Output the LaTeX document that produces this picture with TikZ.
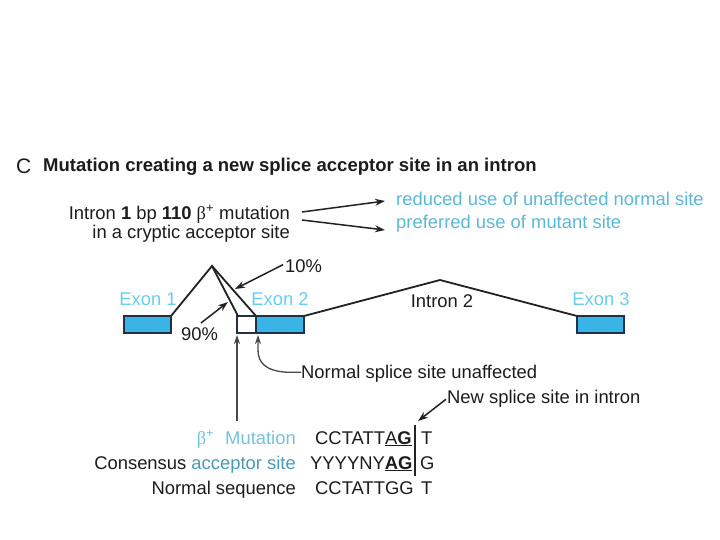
\documentclass[tikz,border=0pt]{standalone}
\usepackage{fontspec}
\setmainfont{Liberation Sans}
\newfontfamily\grkserif{Liberation Serif}
\usetikzlibrary{arrows.meta}
\definecolor{exfill}{HTML}{3AB4E6}
\definecolor{exdraw}{HTML}{1E3148}
\definecolor{exlab}{HTML}{6ACDEB}
\definecolor{cyantxt}{HTML}{5CB9D6}
\definecolor{mutc}{HTML}{72C3DE}
\definecolor{accc}{HTML}{4A9BB4}
\definecolor{ink}{HTML}{1C1C1C}
\definecolor{lin}{HTML}{222222}
\definecolor{glin}{HTML}{484848}
\newcommand{\bplus}{{\grkserif β}\textsuperscript{+}}
\tikzset{
  txt/.style={inner sep=0pt, text=ink, font=\fontsize{18.4}{20}\selectfont},
  exonbox/.style={draw=exdraw, fill=exfill, line width=1.5pt},
  exlabel/.style={txt, text=exlab, anchor=base},
  splice/.style={draw=lin, line width=1.8pt, line join=miter},
  arr/.style={draw=lin, line width=1.5pt, -{Stealth[length=10pt,width=7pt]}},
  garr/.style={draw=glin, line width=1.3pt, -{Stealth[length=9pt,width=6pt]}},
}
\begin{document}
\begin{tikzpicture}[x=1pt,y=-1pt]
\useasboundingbox (0,0) rectangle (720,540);
\fill[white] (0,0) rectangle (720,540);

% title
\node[txt, anchor=base west, font=\fontsize{21}{22}\selectfont] (lblC) at (16,174) {C};
\node[txt, anchor=base west, font=\bfseries\fontsize{18.5}{20}\selectfont] (title) at (43,172) {Mutation creating a new splice acceptor site in an intron};

% top description
\node[txt, anchor=base east] (d1) at (290,219) {Intron \textbf{1} bp \textbf{110} \bplus\ mutation};
\node[txt, anchor=base east] (d2) at (290,239) {in a cryptic acceptor site};
\node[txt, anchor=base west, text=cyantxt] (r1) at (396,206) {reduced use of unaffected normal site};
\node[txt, anchor=base west, text=cyantxt] (r2) at (396,229) {preferred use of mutant site};
\coordinate (a1s) at (302,212);
\coordinate (a2s) at (302,220);
\coordinate (a1e) at (385,201);
\coordinate (a2e) at (385,230);
\draw[arr] (a1s) -- (a1e);
\draw[arr] (a2s) -- (a2e);

% exons
\draw[exonbox] (124,316) rectangle (171,333) node[midway] (ex1) {};
\draw[draw=exdraw, fill=white, line width=1.3pt] (237,316) rectangle (256,333) node[midway] (cry) {};
\draw[exonbox] (256,316) rectangle (304,333) node[midway] (ex2) {};
\draw[exonbox] (577,316) rectangle (624,333) node[midway] (ex3) {};

\node[exlabel] (e1l) at (148,305) {Exon 1};
\node[exlabel] (e2l) at (280,305) {Exon 2};
\node[exlabel] (e3l) at (601,305) {Exon 3};
\node[txt, anchor=base] (i2l) at (442,307) {Intron 2};

% splicing lines
\coordinate (pk1) at (212,266);
\coordinate (pk2) at (440,280);
\draw[splice] (171,316) -- (pk1) -- (238,316);
\draw[splice] (pk1) -- (256,316);
\draw[splice] (304,316) -- (pk2) -- (577,316);

% percentages
\node[txt, anchor=base west] (p10) at (285,272) {10\%};
\node[txt, anchor=base west] (p90) at (181,340) {90\%};
\coordinate (t10) at (235,289);
\coordinate (t90) at (228,302);
\draw[arr] (p10.west) ++(-2,-1) -- (t10);
\draw[arr] (201,323) -- (t90);

% lower arrows
\node[txt, anchor=base west] (nss) at (301,378) {Normal splice site unaffected};
\node[txt, anchor=base west] (new) at (447,403) {New splice site in intron};
\coordinate (mutbot) at (237,421);
\coordinate (mutt) at (237,335);
\coordinate (nst) at (258,335);
\draw[garr] (mutbot) -- (mutt);
\draw[garr] (nss.west) ++(0,-1) -- ++(-14,0) .. controls (266,371) and (258,363) .. (258,350) -- (nst);
\coordinate (newt) at (418,421);
\draw[arr] (new.west) ++(-1,1) -- (newt);

% sequences
\node[txt, anchor=base east, text=mutc] (m1) at (296,444) {\bplus\hspace{0.6em}Mutation};
\node[txt, anchor=base east] (m2) at (296,469) {Consensus \textcolor{accc}{acceptor site}};
\node[txt, anchor=base east] (m3) at (296,494) {Normal sequence};
\node[txt, anchor=base west] (s1) at (315,444) {CCTATT\underline{A\textbf{G}}};
\node[txt, anchor=base west] (s2) at (310,469) {YYYYNY\underline{\textbf{AG}}};
\node[txt, anchor=base west] (s3) at (315,494) {CCTATTGG};
\node[txt, anchor=base west] (t1) at (421,444) {T};
\node[txt, anchor=base west] (t2) at (420,469) {G};
\node[txt, anchor=base west] (t3) at (421,494) {T};
\coordinate (vt) at (415,425);
\coordinate (vb) at (415,476);
\draw[draw=lin, line width=1.5pt] (vt) -- (vb);
\end{tikzpicture}
\end{document}
